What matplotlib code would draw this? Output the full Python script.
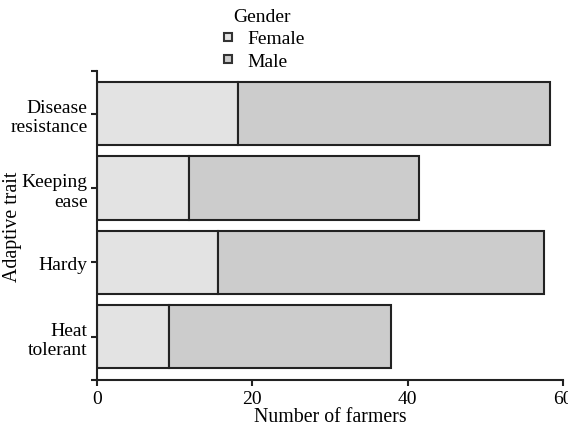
import matplotlib
matplotlib.use("Agg")
import matplotlib.pyplot as plt
from matplotlib.lines import Line2D

categories = ["Heat\ntolerant", "Hardy", "Keeping\nease", "Disease\nresistance"]
female = [9.3, 15.6, 11.8, 18.2]
total = [37.9, 57.6, 41.5, 58.4]
male = [t - f for t, f in zip(total, female)]
xticks = [0, 20, 40, 60]

plt.rcParams['font.family'] = ['Liberation Serif', 'DejaVu Serif']
plt.rcParams['font.size'] = 14

fig = plt.figure(figsize=(5.68, 4.27), dpi=100)
ax = fig.add_axes([0.171, 0.108, 0.82, 0.723])

pos = list(range(len(categories)))
ec = "#222222"
ax.barh(pos, female, height=0.85, color="#e3e3e3", edgecolor=ec, linewidth=1.5)
ax.barh(pos, male, left=female, height=0.85, color="#cccccc", edgecolor=ec, linewidth=1.5)

ax.set_xlim(0, 60)
ax.set_ylim(-0.58, 3.57)
ax.set_xticks(xticks)
ax.set_yticks(pos)
ax.set_yticklabels(categories, ha="right", multialignment="right", linespacing=1.2)
ax.set_yticks([-0.58, 3.57], minor=True)
ax.tick_params(axis="y", which="minor", length=4, width=1.5, color=ec)
ax.tick_params(axis="both", which="major", length=4, width=1.5, color=ec, labelsize=14, pad=3)
ax.spines["top"].set_visible(False)
ax.spines["right"].set_visible(False)
for s in ("left", "bottom"):
    ax.spines[s].set_linewidth(1.5)
    ax.spines[s].set_color(ec)
ax.set_xlabel("Number of farmers", fontsize=14.3, labelpad=0)
ax.set_ylabel("Adaptive trait", fontsize=14.3)
ax.yaxis.set_label_coords(-0.161, 0.5)

handles = [
    Line2D([0], [0], marker="s", linestyle="none", markersize=6, markerfacecolor="#e3e3e3",
           markeredgecolor="#333333", markeredgewidth=1.5),
    Line2D([0], [0], marker="s", linestyle="none", markersize=6, markerfacecolor="#cccccc",
           markeredgecolor="#333333", markeredgewidth=1.5),
]
leg = fig.legend(handles, ["Female", "Male"], title="Gender", loc="upper center",
                 bbox_to_anchor=(0.461, 1.02), frameon=False, fontsize=14, title_fontsize=14,
                 handlelength=1.0, handletextpad=0.5, labelspacing=0.25)

fig.savefig("out.png", dpi=100)
